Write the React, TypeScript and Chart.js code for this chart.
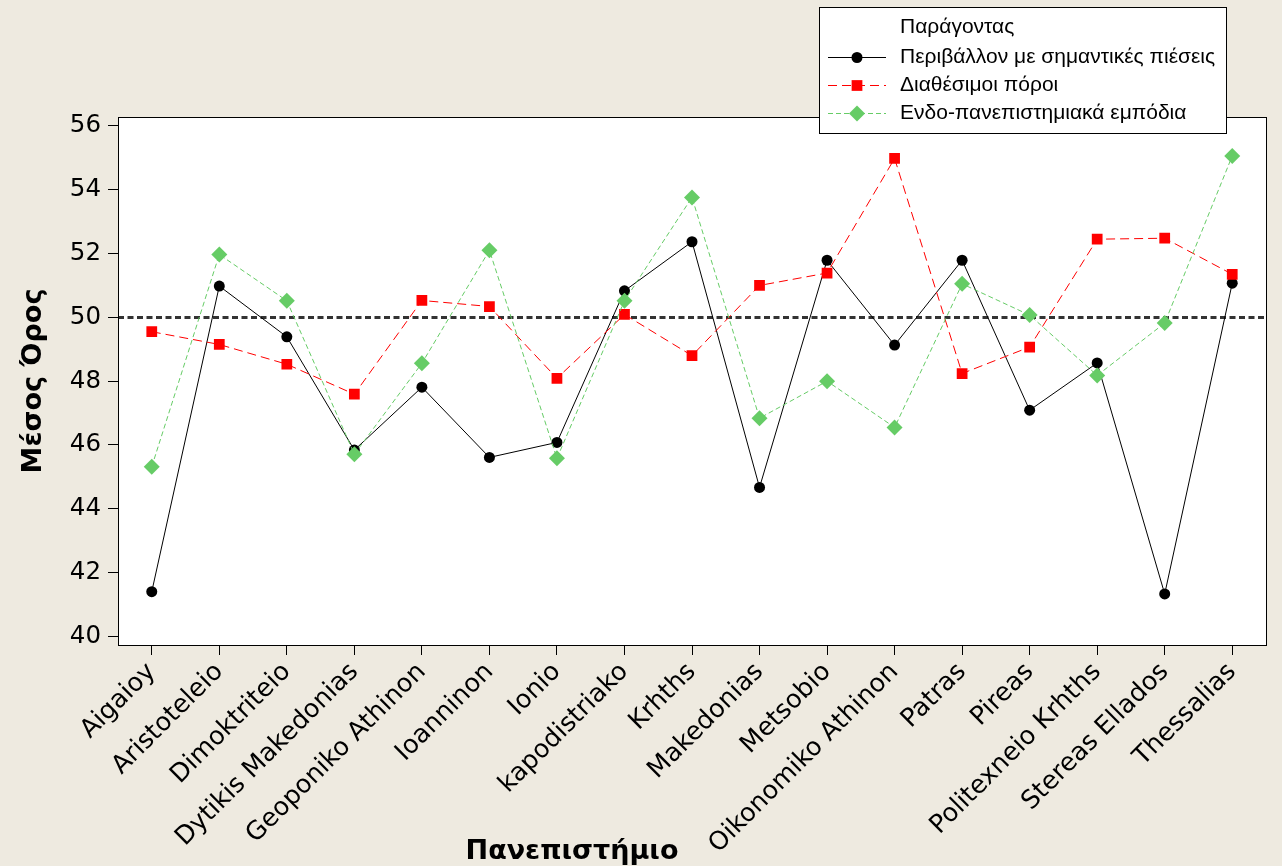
import React, { useEffect, useRef } from 'react';
import { Chart, registerables } from 'chart.js';

Chart.register(...registerables);

const universities = [
  'Aigaioy', 'Aristoteleio', 'Dimoktriteio', 'Dytikis Makedonias', 'Geoponiko Athinon',
  'Ioanninon', 'Ionio', 'kapodistriako', 'Krhths', 'Makedonias', 'Metsobio',
  'Oikonomiko Athinon', 'Patras', 'Pireas', 'Politexneio Krhths', 'Stereas Ellados', 'Thessalias',
];
const pressures = [41.40, 50.98, 49.39, 45.84, 47.81, 45.61, 46.08, 50.83, 52.37, 44.67, 51.79, 49.13, 51.79, 47.09, 48.57, 41.33, 51.07];
const resources = [49.55, 49.15, 48.53, 47.59, 50.53, 50.34, 48.09, 50.09, 48.80, 51.00, 51.39, 54.98, 48.24, 49.07, 52.45, 52.48, 51.35];
const barriers = [45.32, 51.97, 50.52, 45.71, 48.56, 52.10, 45.58, 50.52, 53.76, 46.84, 48.00, 46.55, 51.05, 50.07, 48.18, 49.82, 55.06];
const yTicks = [40, 42, 44, 46, 48, 50, 52, 54, 56];
const referenceMean = 50;
const legendTitle = 'Παράγοντας';
const seriesNames = ['Περιβάλλον με σημαντικές πιέσεις', 'Διαθέσιμοι πόροι', 'Ενδο-πανεπιστημιακά εμπόδια'];
const xTitle = 'Πανεπιστήμιο';
const yTitle = 'Μέσος Όρος';

const BG = '#EEEAE0';
const GREEN = '#66CC66';
const RED = '#FF0000';
const TICK_FONT = '"DejaVu Sans", sans-serif';

const seriesStyles = [
  { color: '#000000', dash: [] as number[], shape: 'circle', r: 5.5 },
  { color: RED, dash: [9, 5], shape: 'rect', r: 7.6 },
  { color: GREEN, dash: [5, 3], shape: 'rectRot', r: 8 },
];

function drawMarker(ctx: CanvasRenderingContext2D, shape: string, x: number, y: number, r: number, color: string) {
  ctx.save();
  ctx.fillStyle = color;
  ctx.setLineDash([]);
  ctx.beginPath();
  if (shape === 'circle') {
    ctx.arc(x, y, r, 0, Math.PI * 2);
  } else if (shape === 'rect') {
    const s = r * Math.SQRT1_2;
    ctx.rect(x - s, y - s, 2 * s, 2 * s);
  } else {
    ctx.moveTo(x - r, y);
    ctx.lineTo(x, y - r);
    ctx.lineTo(x + r, y);
    ctx.lineTo(x, y + r);
    ctx.closePath();
  }
  ctx.fill();
  ctx.restore();
}

const decorPlugin = {
  id: 'decor',
  beforeDraw(chart: any) {
    const { ctx, chartArea: a, width, height } = chart;
    ctx.save();
    ctx.fillStyle = BG;
    ctx.fillRect(0, 0, width, height);
    ctx.fillStyle = '#FFFFFF';
    ctx.fillRect(a.left, a.top, a.right - a.left, a.bottom - a.top);
    ctx.restore();
  },
  beforeDatasetsDraw(chart: any) {
    const { ctx, chartArea: a } = chart;
    const y = Math.round(chart.scales.y.getPixelForValue(referenceMean));
    ctx.save();
    ctx.strokeStyle = '#333333';
    ctx.lineWidth = 3;
    ctx.setLineDash([6, 3.5]);
    ctx.beginPath();
    ctx.moveTo(a.left, y + 0.5);
    ctx.lineTo(a.right, y + 0.5);
    ctx.stroke();
    ctx.restore();
  },
  afterDraw(chart: any) {
    const { ctx, chartArea: a } = chart;
    ctx.save();
    // plot frame
    ctx.strokeStyle = '#000000';
    ctx.lineWidth = 1;
    ctx.setLineDash([]);
    ctx.strokeRect(Math.round(a.left) + 0.5, Math.round(a.top) + 0.5, Math.round(a.right - a.left), Math.round(a.bottom - a.top));

    // axis titles
    ctx.fillStyle = '#000000';
    ctx.font = 'bold 27px "DejaVu Sans", sans-serif';
    ctx.textAlign = 'center';
    ctx.textBaseline = 'alphabetic';
    ctx.fillText(xTitle, 572, 859);
    ctx.save();
    ctx.translate(41, (a.top + a.bottom) / 2);
    ctx.rotate(-Math.PI / 2);
    ctx.fillText(yTitle, 0, 0);
    ctx.restore();

    // legend
    const lx = 819.5, ly = 7.5, lw = 407, lh = 126;
    ctx.fillStyle = '#FFFFFF';
    ctx.fillRect(lx, ly, lw, lh);
    ctx.strokeStyle = '#000000';
    ctx.strokeRect(lx, ly, lw, lh);
    ctx.fillStyle = '#000000';
    ctx.font = '21px "Liberation Sans", sans-serif';
    ctx.textAlign = 'left';
    ctx.textBaseline = 'middle';
    ctx.fillText(legendTitle, 900, 27);
    const rows = [57, 85, 113];
    seriesNames.forEach((name, i) => {
      const st = seriesStyles[i];
      const y = rows[i] + 0.5;
      ctx.strokeStyle = st.color;
      ctx.lineWidth = 1;
      ctx.setLineDash(st.dash);
      ctx.beginPath();
      ctx.moveTo(828, y);
      ctx.lineTo(886, y);
      ctx.stroke();
      drawMarker(ctx, st.shape, 857, y, st.r, st.color);
      ctx.fillStyle = '#000000';
      ctx.fillText(name, 900, rows[i]);
    });
    ctx.restore();
  },
};

export default function App() {
  const canvasRef = useRef<HTMLCanvasElement | null>(null);

  useEffect(() => {
    const canvas = canvasRef.current;
    if (!canvas) return;
    const datasetsSrc = [pressures, resources, barriers];
    const chart = new Chart(canvas, {
      type: 'line',
      data: {
        labels: universities,
        datasets: datasetsSrc.map((values, i) => ({
          label: seriesNames[i],
          data: values,
          borderColor: seriesStyles[i].color,
          backgroundColor: seriesStyles[i].color,
          borderWidth: 1,
          borderDash: seriesStyles[i].dash,
          pointStyle: seriesStyles[i].shape,
          pointRadius: seriesStyles[i].r,
          pointBorderWidth: 0,
          pointBackgroundColor: seriesStyles[i].color,
          tension: 0,
          fill: false,
          order: 3 - i,
        })),
      },
      options: {
        animation: false,
        responsive: false,
        devicePixelRatio: 1,
        layout: { padding: { top: 117, right: 16, left: 0, bottom: 0 } },
        plugins: {
          legend: { display: false },
          tooltip: { enabled: false },
          title: { display: false },
        },
        scales: {
          x: {
            type: 'category',
            offset: true,
            grid: { display: true, drawOnChartArea: false, drawTicks: true, tickLength: 10, color: '#000000', offset: false },
            border: { display: true, color: '#000000', width: 1 },
            ticks: {
              autoSkip: false,
              maxRotation: 45,
              minRotation: 45,
              padding: 2,
              color: '#000000',
              font: { family: TICK_FONT, size: 25.5 },
            },
            afterFit: (scale: any) => { scale.height = 221; },
          },
          y: {
            type: 'linear',
            min: 39.73,
            max: 56.28,
            grid: { display: true, drawOnChartArea: false, drawTicks: true, tickLength: 10, color: '#000000' },
            border: { display: true, color: '#000000', width: 1 },
            ticks: {
              includeBounds: false,
              padding: 7,
              color: '#000000',
              font: { family: TICK_FONT, size: 24.5 },
            },
            afterBuildTicks: (scale: any) => { scale.ticks = yTicks.map((v) => ({ value: v })); },
            afterFit: (scale: any) => { scale.width = 118; },
          },
        },
      },
      plugins: [decorPlugin],
    } as any);
    return () => chart.destroy();
  }, []);

  return (
    <div style={{ position: 'absolute', left: 0, top: 0, width: 1282, height: 866 }}>
      <canvas ref={canvasRef} width={1282} height={866} style={{ display: 'block' }} />
    </div>
  );
}
